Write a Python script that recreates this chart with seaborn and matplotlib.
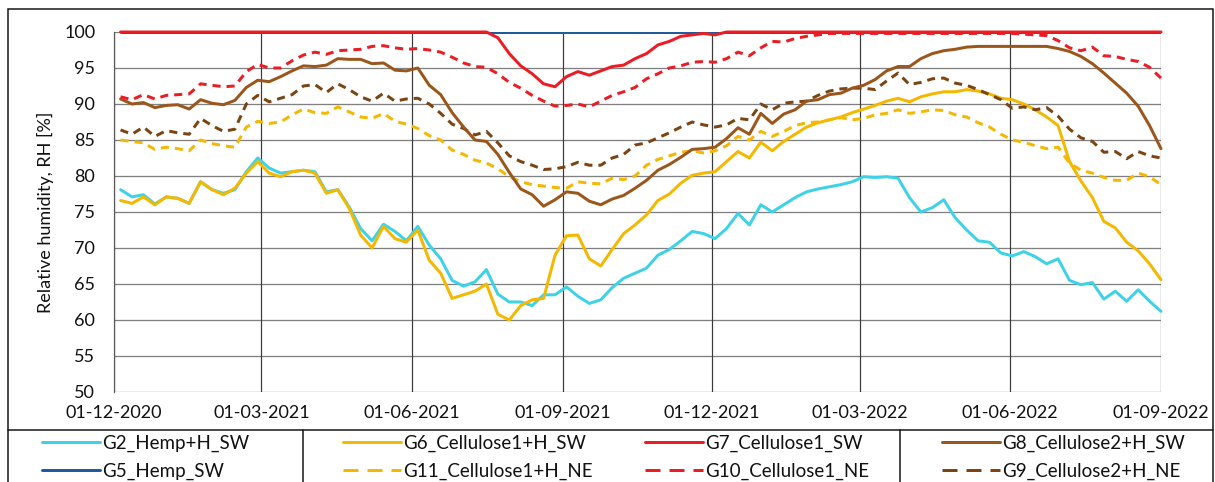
import matplotlib
matplotlib.use("Agg")
import matplotlib.pyplot as plt
import matplotlib.dates as mdates
from matplotlib.lines import Line2D
from matplotlib.patches import Rectangle
import pandas as pd
import seaborn as sns

# Roughly weekly readings of relative humidity in the wall assemblies
dates = pd.date_range("2020-12-05", "2022-09-01", periods=92)

g2_hemp_h_sw = [
    78.1, 77.1, 77.4, 76.1, 77.1, 76.9, 76.2, 79.2, 78.1, 77.6, 78.1, 80.6, 82.5, 81.1, 80.4, 80.6, 80.8, 80.6, 77.8, 78.1, 75.7, 72.7, 71.0,
    73.3, 72.3, 71.0, 73.0, 70.4, 68.5, 65.5, 64.7, 65.3, 67.0, 63.6, 62.5, 62.5, 62.0, 63.5, 63.5, 64.6, 63.3, 62.3, 62.8, 64.5, 65.8, 66.5,
    67.2, 69.0, 69.8, 71.0, 72.3, 72.0, 71.3, 72.7, 74.8, 73.2, 76.0, 75.0, 76.0, 77.0, 77.8, 78.2, 78.5, 78.8, 79.2, 79.9, 79.8, 79.9, 79.7,
    77.0, 75.0, 75.6, 76.7, 74.2, 72.5, 71.0, 70.8, 69.3, 68.9, 69.5, 68.8, 67.8, 68.5, 65.5, 64.9, 65.2, 62.9, 64.0, 62.6, 64.2, 62.6, 61.2,
]
g5_hemp_sw = [
    100, 100, 100, 100, 100, 100, 100, 100, 100, 100, 100, 100, 100, 100, 100, 100, 100, 100, 100, 100, 100, 100, 100,
    100, 100, 100, 100, 100, 100, 100, 100, 100, 100, 100, 100, 100, 100, 100, 100, 100, 100, 100, 100, 100, 100, 100,
    100, 100, 100, 100, 100, 100, 100, 100, 100, 100, 100, 100, 100, 100, 100, 100, 100, 100, 100, 100, 100, 100, 100,
    100, 100, 100, 100, 100, 100, 100, 100, 100, 100, 100, 100, 100, 100, 100, 100, 100, 100, 100, 100, 100, 100, 100,
]
g6_cell1_h_sw = [
    76.6, 76.2, 77.1, 76.0, 77.1, 76.9, 76.2, 79.2, 78.1, 77.4, 78.3, 80.4, 82.0, 80.4, 79.9, 80.6, 80.8, 80.4, 77.6, 78.1, 75.5, 71.8, 70.0,
    73.0, 71.3, 70.8, 72.5, 68.3, 66.5, 63.0, 63.5, 64.0, 65.0, 60.8, 60.0, 62.0, 62.8, 63.0, 69.0, 71.7, 71.8, 68.5, 67.5, 69.8, 72.0, 73.2,
    74.6, 76.6, 77.5, 79.0, 80.1, 80.4, 80.6, 82.0, 83.4, 82.5, 84.7, 83.5, 84.8, 85.8, 86.8, 87.4, 87.8, 88.2, 88.8, 89.3, 89.8, 90.4, 90.8,
    90.3, 91.0, 91.4, 91.7, 91.7, 92.0, 91.8, 91.4, 90.8, 90.6, 90.0, 89.2, 88.2, 87.0, 82.0, 79.3, 77.0, 73.7, 72.8, 70.8, 69.6, 67.8, 65.6,
]
g11_cell1_h_ne = [
    85.0, 84.8, 84.6, 83.7, 84.0, 83.8, 83.5, 85.0, 84.5, 84.2, 84.0, 86.8, 87.6, 87.3, 87.5, 88.5, 89.3, 88.8, 88.7, 89.6, 88.9, 88.2, 88.0,
    88.7, 87.6, 87.2, 86.6, 85.6, 85.0, 83.6, 83.0, 82.2, 81.8, 81.0, 79.9, 79.2, 78.8, 78.6, 78.4, 78.3, 79.2, 79.0, 78.9, 79.7, 79.5, 80.0,
    81.5, 82.3, 82.8, 83.3, 83.5, 83.2, 83.5, 84.2, 85.5, 85.0, 86.2, 85.5, 86.2, 87.0, 87.4, 87.5, 87.8, 88.1, 87.8, 88.0, 88.5, 88.7, 89.2,
    88.7, 88.9, 89.2, 89.1, 88.5, 88.2, 87.4, 86.8, 85.8, 85.0, 84.7, 84.2, 83.8, 84.0, 81.8, 80.8, 80.4, 79.8, 79.4, 79.4, 80.4, 79.9, 78.8,
]
g7_cell1_sw = [
    100, 100, 100, 100, 100, 100, 100, 100, 100, 100, 100, 100, 100, 100, 100, 100, 100, 100, 100, 100, 100, 100, 100,
    100, 100, 100, 100, 100, 100, 100, 100, 100, 100, 99.2, 97.0, 95.3, 94.2, 92.8, 92.4, 93.8, 94.5, 94.0, 94.6, 95.2, 95.4, 96.3,
    97.0, 98.2, 98.7, 99.4, 99.6, 99.8, 99.6, 100, 100, 100, 100, 100, 100, 100, 100, 100, 100, 100, 100, 100, 100, 100, 100,
    100, 100, 100, 100, 100, 100, 100, 100, 100, 100, 100, 100, 100, 100, 100, 100, 100, 100, 100, 100, 100, 100, 100,
]
g10_cell1_ne = [
    91.0, 90.6, 91.3, 90.7, 91.2, 91.3, 91.4, 92.8, 92.6, 92.4, 92.5, 94.5, 95.5, 95.0, 95.0, 96.0, 96.8, 97.2, 96.9, 97.4, 97.5, 97.6, 98.0,
    98.1, 97.8, 97.6, 97.7, 97.5, 97.2, 96.5, 95.7, 95.2, 95.1, 94.2, 93.0, 92.2, 91.2, 90.4, 89.7, 89.8, 90.0, 89.6, 90.4, 91.2, 91.7, 92.3,
    93.5, 94.2, 95.0, 95.3, 95.8, 95.9, 95.8, 96.3, 97.2, 96.7, 97.8, 98.7, 98.6, 99.1, 99.4, 99.6, 99.8, 99.8, 99.8, 99.8, 99.8, 99.8, 99.8,
    99.8, 99.8, 99.8, 99.8, 99.8, 99.8, 99.8, 99.8, 99.8, 99.8, 99.7, 99.6, 99.5, 98.8, 97.8, 97.4, 97.9, 96.7, 96.6, 96.2, 95.9, 95.1, 93.6,
]
g8_cell2_h_sw = [
    90.7, 90.0, 90.2, 89.5, 89.8, 89.9, 89.3, 90.6, 90.1, 89.9, 90.5, 92.3, 93.3, 93.1, 93.8, 94.6, 95.3, 95.2, 95.4, 96.3, 96.2, 96.2, 95.6,
    95.7, 94.7, 94.6, 95.0, 92.6, 91.3, 88.8, 86.8, 85.0, 84.8, 83.0, 80.5, 78.2, 77.4, 75.8, 76.7, 77.8, 77.6, 76.5, 76.0, 76.8, 77.3, 78.3,
    79.4, 80.8, 81.6, 82.6, 83.7, 83.8, 84.0, 85.2, 86.7, 85.8, 88.7, 87.3, 88.6, 89.2, 90.4, 90.6, 91.3, 91.5, 92.2, 92.6, 93.4, 94.6, 95.2,
    95.2, 96.3, 97.0, 97.4, 97.6, 97.9, 98.0, 98.0, 98.0, 98.0, 98.0, 98.0, 98.0, 97.7, 97.3, 96.6, 95.6, 94.3, 92.9, 91.5, 89.7, 87.0, 83.8,
]
g9_cell2_h_ne = [
    86.4, 85.8, 86.8, 85.5, 86.3, 86.0, 85.8, 88.0, 87.0, 86.2, 86.5, 90.0, 91.2, 90.3, 90.8, 91.3, 92.5, 92.7, 91.6, 92.8, 92.0, 91.0, 90.4,
    91.5, 90.4, 90.7, 90.8, 90.0, 88.7, 87.2, 86.6, 85.7, 86.2, 84.6, 82.8, 82.0, 81.5, 80.9, 81.0, 81.3, 81.9, 81.5, 81.5, 82.5, 83.0, 84.3,
    84.6, 85.3, 86.0, 86.8, 87.5, 87.1, 86.8, 87.1, 88.0, 87.8, 90.0, 89.2, 90.1, 90.3, 90.4, 91.2, 91.8, 92.1, 92.2, 92.2, 92.0, 93.2, 94.3,
    92.7, 93.0, 93.5, 93.6, 92.9, 92.6, 92.0, 91.3, 90.6, 89.4, 89.6, 89.2, 89.5, 88.3, 86.5, 85.3, 84.8, 83.3, 83.4, 82.4, 83.4, 82.8, 82.5,
]

labels = {
    "g2": "G2_Hemp+H_SW",
    "g5": "G5_Hemp_SW",
    "g6": "G6_Cellulose1+H_SW",
    "g11": "G11_Cellulose1+H_NE",
    "g7": "G7_Cellulose1_SW",
    "g10": "G10_Cellulose1_NE",
    "g8": "G8_Cellulose2+H_SW",
    "g9": "G9_Cellulose2+H_NE",
}
tick_dates = ["2020-12-01", "2021-03-01", "2021-06-01", "2021-09-01",
              "2021-12-01", "2022-03-01", "2022-06-01", "2022-09-01"]
y_ticks = [50, 55, 60, 65, 70, 75, 80, 85, 90, 95, 100]

df = pd.DataFrame({
    "date": dates,
    "g2": g2_hemp_h_sw, "g5": g5_hemp_sw, "g6": g6_cell1_h_sw, "g11": g11_cell1_h_ne,
    "g7": g7_cell1_sw, "g10": g10_cell1_ne, "g8": g8_cell2_h_sw, "g9": g9_cell2_h_ne,
})

sns.set_theme(style="white")
plt.rcParams["font.family"] = ["Lato", "DejaVu Sans"]

PX = 0.72  # points per pixel at 100 dpi
LW = 3 * PX
DASH = (0, (2.7, 2.0))

styles = {
    "g2": dict(color="#3ed2e8", ls="-"),
    "g5": dict(color="#1f5c99", ls="-"),
    "g6": dict(color="#f5b800", ls="-"),
    "g11": dict(color="#f5b800", ls=DASH),
    "g7": dict(color="#ec1c24", ls="-"),
    "g10": dict(color="#ec1c24", ls=DASH),
    "g8": dict(color="#9b561c", ls="-"),
    "g9": dict(color="#7b4513", ls=DASH),
}

W, H = 1215, 482
fig = plt.figure(figsize=(W / 100, H / 100), dpi=100)
ax = fig.add_axes([114 / W, (H - 392) / H, 1047 / W, 360 / H])

# horizontal and vertical grid
for y in y_ticks:
    ax.axhline(y, color="#808080", lw=1.3 * PX, zorder=0)
for d in tick_dates:
    ax.axvline(pd.Timestamp(d), color="#3a3a3a", lw=1.2 * PX, zorder=0)

draw_order = ["g5", "g2", "g6", "g11", "g9", "g8", "g10", "g7"]
for key in draw_order:
    st = styles[key]
    sns.lineplot(data=df, x="date", y=key, ax=ax, color=st["color"],
                 linestyle=st["ls"], linewidth=LW, errorbar=None,
                 clip_on=(key == "g5"), zorder=3)

ax.set_ylim(50, 100)
ax.set_xlim(pd.Timestamp(tick_dates[0]), pd.Timestamp(tick_dates[-1]))
ax.set_yticks(y_ticks)
ax.set_xticks([pd.Timestamp(d) for d in tick_dates])
ax.xaxis.set_major_formatter(mdates.DateFormatter("%d-%m-%Y"))
ax.tick_params(axis="x", direction="out", length=6 * PX, width=1.2 * PX,
               color="#3a3a3a", labelsize=13, pad=5, labelcolor="#111111")
ax.tick_params(axis="y", length=0, labelsize=13, pad=13.5, labelcolor="#111111")
ax.set_xlabel("")
ax.set_ylabel("Relative humidity, RH [%]", fontsize=13, color="#111111")
ax.yaxis.set_label_coords(-0.057, 0.5)
for side in ["top", "right", "bottom"]:
    ax.spines[side].set_visible(False)
ax.spines["left"].set_color("#595959")
ax.spines["left"].set_linewidth(1.2 * PX)
ax.patch.set_alpha(0)

# chart frame and legend table
fig.add_artist(Rectangle((8 / W, -0.1), (1213 - 8) / W, 1.1 - 9 / H,
                         transform=fig.transFigure, fill=False,
                         edgecolor="#111111", lw=1.5 * PX))
y_sep = (H - 430) / H
fig.add_artist(Line2D([8 / W, 1213 / W], [y_sep, y_sep], transform=fig.transFigure,
                      color="#111111", lw=1.5 * PX))
for xd in [303, 900]:
    fig.add_artist(Line2D([xd / W, xd / W], [0, y_sep], transform=fig.transFigure,
                          color="#111111", lw=1.5 * PX))

columns = [("g2", "g5", 42), ("g6", "g11", 343), ("g7", "g10", 645), ("g8", "g9", 942)]
for k1, k2, x0 in columns:
    handles = []
    for k in (k1, k2):
        st = styles[k]
        ls = (0, (5.0, 3.0)) if st["ls"] != "-" else "-"
        handles.append(Line2D([], [], color=st["color"], linestyle=ls, lw=LW))
    fig.legend(handles, [labels[k1], labels[k2]], loc="upper left",
               bbox_to_anchor=(x0 / W, (H - 435) / H), frameon=False,
               fontsize=13.5, borderpad=0, borderaxespad=0, handlelength=3.1,
               handletextpad=0.1, labelspacing=0.55, labelcolor="#111111")

fig.savefig("out.png", dpi=100, facecolor="white")
